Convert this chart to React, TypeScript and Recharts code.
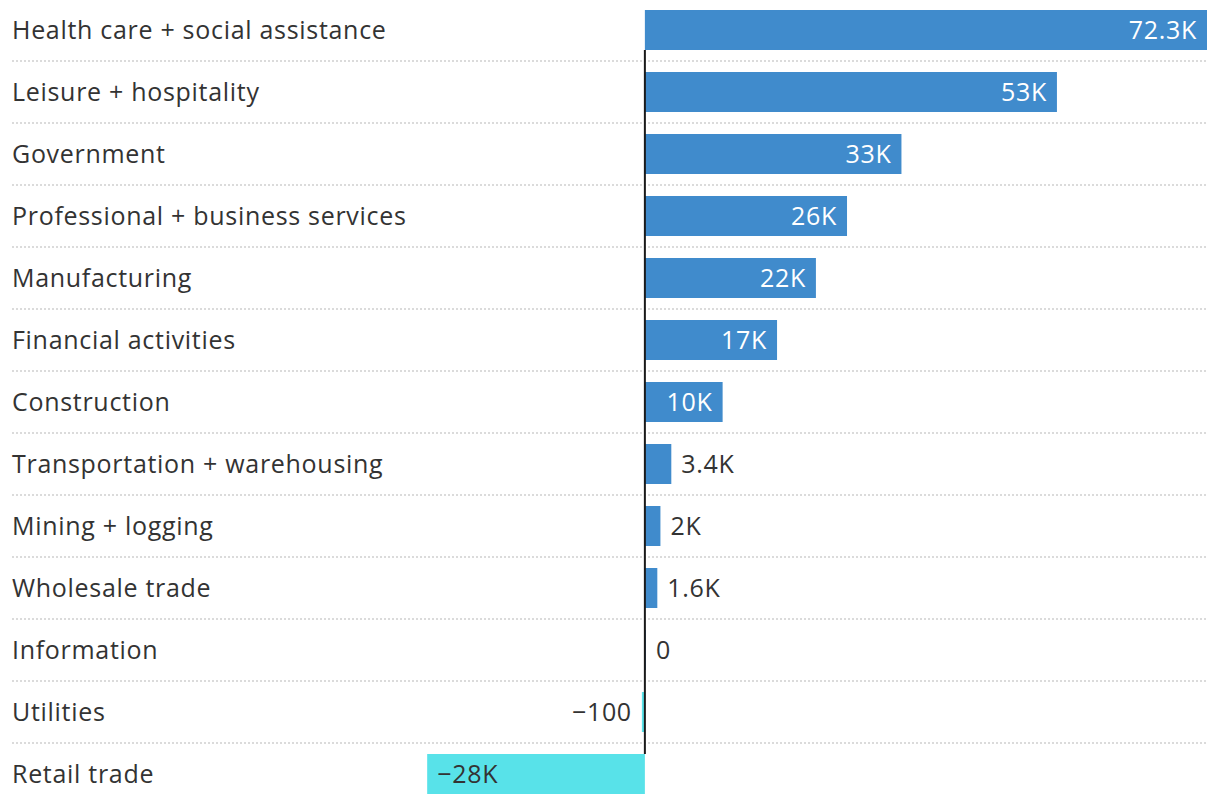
import React from 'react';
import { BarChart, Bar, XAxis, YAxis, Cell, LabelList, ReferenceLine, CartesianGrid } from 'recharts';

const categories = [
  'Health care + social assistance',
  'Leisure + hospitality',
  'Government',
  'Professional + business services',
  'Manufacturing',
  'Financial activities',
  'Construction',
  'Transportation + warehousing',
  'Mining + logging',
  'Wholesale trade',
  'Information',
  'Utilities',
  'Retail trade',
];
const values = [72300, 53000, 33000, 26000, 22000, 17000, 10000, 3400, 2000, 1600, 0, -100, -28000];

const data = categories.map((name, i) => ({ name, value: values[i] }));
const boundaries = categories.slice(1).map((_, i) => i + 1);

const POS = '#408bcc';
const NEG = '#58e2e9';
const TEXT = '#333333';
const FONT = '"Open Sans", Lato, sans-serif';
const FS = 25;
const LS = 0.7;
const BAR = 40;
const DY = -1;

const fmt = (v: number) => {
  const a = Math.abs(v);
  const s = a >= 1000 ? `${parseFloat((a / 1000).toFixed(1))}K` : `${a}`;
  return v < 0 ? `\u2212${s}` : s;
};

const ValueLabel = (props: any) => {
  const { x, y, width, height, value } = props;
  const left = Math.min(x, x + width);
  const right = Math.max(x, x + width);
  const w = right - left;
  const cy = y + height / 2 + DY;
  const inside = w > 60;
  const common = {
    y: cy,
    dominantBaseline: 'central' as const,
    fontSize: FS,
    fontFamily: FONT,
    letterSpacing: LS,
  };
  if (value >= 0) {
    return inside ? (
      <text {...common} x={right - 10} textAnchor="end" fill="#ffffff">{fmt(value)}</text>
    ) : (
      <text {...common} x={right + 10} textAnchor="start" fill={TEXT}>{fmt(value)}</text>
    );
  }
  return inside ? (
    <text {...common} x={left + 10} textAnchor="start" fill={TEXT}>{fmt(value)}</text>
  ) : (
    <text {...common} x={left - 10} textAnchor="end" fill={TEXT}>{fmt(value)}</text>
  );
};

const CategoryTick = (props: any) => {
  const { y, payload } = props;
  return (
    <text
      x={12}
      y={y + DY}
      dominantBaseline="central"
      textAnchor="start"
      fontSize={FS}
      fontFamily={FONT}
      letterSpacing={LS}
      fill={TEXT}
    >
      {payload.value}
    </text>
  );
};

const ZeroLine = (props: any) => {
  const { x1, y1, x2, y2 } = props;
  const n = categories.length;
  const inset = ((y2 - y1) / n - BAR) / 2;
  return <line x1={x1} x2={x2} y1={y1 + inset} y2={y2 - inset} stroke="#1a1a1a" strokeWidth={2} />;
};

export default function App() {
  return (
    <div style={{ position: 'absolute', left: 0, top: -1, width: 1220, height: 806, background: '#fff' }}>
      <BarChart
        width={1220}
        height={806}
        data={data}
        layout="vertical"
        margin={{ top: 0, right: 13, bottom: 0, left: 11 }}
        barSize={BAR}
      >
        <CartesianGrid
          vertical={false}
          stroke="#cfcfcf"
          strokeWidth={1.5}
          strokeDasharray="2 2"
          horizontalCoordinatesGenerator={({ offset }: any) =>
            boundaries.map((b) => offset.top + (b * offset.height) / categories.length)
          }
        />
        <XAxis type="number" domain={[-81400, 72300]} hide allowDataOverflow />
        <YAxis
          type="category"
          dataKey="name"
          width={1}
          axisLine={false}
          tickLine={false}
          interval={0}
          tick={<CategoryTick />}
        />
        <Bar
          dataKey="value"
          isAnimationActive={false}
          minPointSize={(v: number) => (v === 0 ? 1 : 3)}
        >
          {data.map((d, i) => (
            <Cell key={i} fill={d.value < 0 ? NEG : POS} />
          ))}
          <LabelList dataKey="value" content={<ValueLabel />} />
        </Bar>
        <ReferenceLine x={0} shape={<ZeroLine />} />
      </BarChart>
    </div>
  );
}
